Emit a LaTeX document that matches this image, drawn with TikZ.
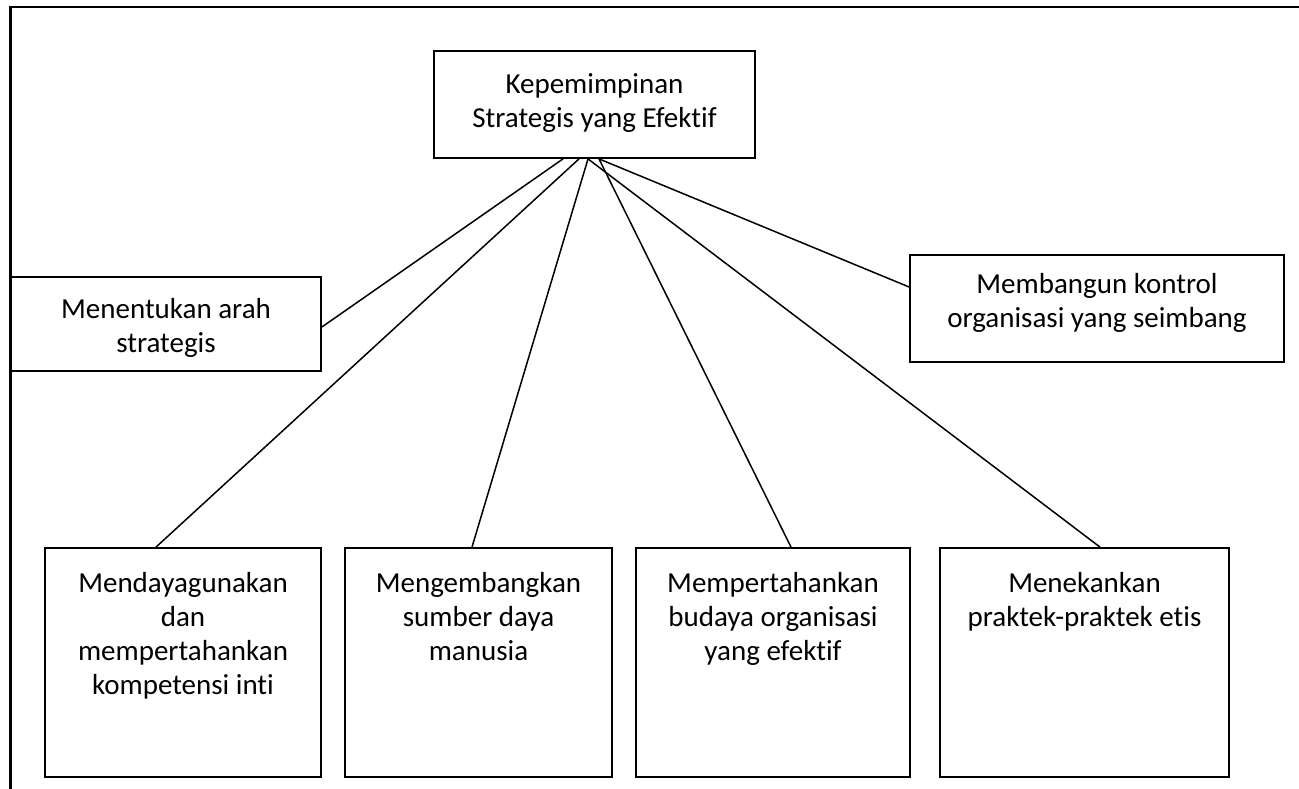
\documentclass[tikz,border=0pt]{standalone}
\usepackage{fontspec}
\setmainfont{Carlito}[Ligatures=NoCommon]
\usetikzlibrary{calc}
\tikzset{
  box/.style={draw=black, line width=1.8pt, rectangle, inner sep=0pt},
  txt/.style={align=center, inner sep=0pt, font=\fontsize{29}{34}\selectfont},
  conn/.style={draw=black, line width=1.5pt},
  frame/.style={draw=black, line width=2.2pt}
}
\begin{document}
\begin{tikzpicture}[x=1pt,y=-1pt]
\useasboundingbox (0,0) rectangle (1299,789);
% open frame
\coordinate (fA) at (10.5,789);
\coordinate (fB) at (10.5,7);
\coordinate (fC) at (1299,7);
\draw[frame] (fA) -- (fB) -- (fC);
% boxes
\node[box, minimum width=321pt, minimum height=107pt] (T) at (594.5,104.5) {};
\node[txt] (Tt) at (594.5,103) {Kepemimpinan\\Strategis yang Efektif};
\node[box, minimum width=310pt, minimum height=94pt] (L) at (166,324) {};
\node[txt] (Lt) at (166,328) {Menentukan arah\\strategis};
\node[box, minimum width=374pt, minimum height=107pt] (R) at (1097,308.5) {};
\node[txt] (Rt) at (1097,303) {Membangun kontrol\\organisasi yang seimbang};
\node[box, minimum width=276pt, minimum height=229pt] (B1) at (183,662.5) {};
\node[box, minimum width=267pt, minimum height=229pt] (B2) at (478.5,662.5) {};
\node[box, minimum width=274pt, minimum height=229pt] (B3) at (773,662.5) {};
\node[box, minimum width=289pt, minimum height=229pt] (B4) at (1084.5,662.5) {};
\node[txt, anchor=north] (B1t) at ([yshift=-21pt]B1.north) {\strut Mendayagunakan\\dan\\mempertahankan\\kompetensi inti};
\node[txt, anchor=north] (B2t) at ([yshift=-21pt]B2.north) {\strut Mengembangkan\\sumber daya\\manusia};
\node[txt, anchor=north] (B3t) at ([yshift=-21pt]B3.north) {\strut Mempertahankan\\budaya organisasi\\yang efektif};
\node[txt, anchor=north] (B4t) at ([yshift=-21pt]B4.north) {\strut Menekankan\\praktek-praktek etis};
% connector anchor points
\coordinate (s1) at ([xshift=-31.5pt]T.south);
\coordinate (s2) at ([xshift=-15.5pt]T.south);
\coordinate (s3) at ([xshift=-6.5pt]T.south);
\coordinate (s4) at ([xshift=4.5pt]T.south);
\coordinate (eL) at ([yshift=-3pt]L.east);
\coordinate (e1) at ([xshift=-27pt]B1.north);
\coordinate (e2) at ([xshift=-6.5pt]B2.north);
\coordinate (e3) at ([xshift=18pt]B3.north);
\coordinate (e4) at ([xshift=15.5pt]B4.north);
\coordinate (eR) at ([yshift=21.5pt]R.west);
\draw[conn] (s1) -- (eL);
\draw[conn] (s2) -- (e1);
\draw[conn] (s3) -- (e2);
\draw[conn] (s3) -- (e4);
\draw[conn] (s4) -- (e3);
\draw[conn] (s4) -- (eR);
\end{tikzpicture}
\end{document}
